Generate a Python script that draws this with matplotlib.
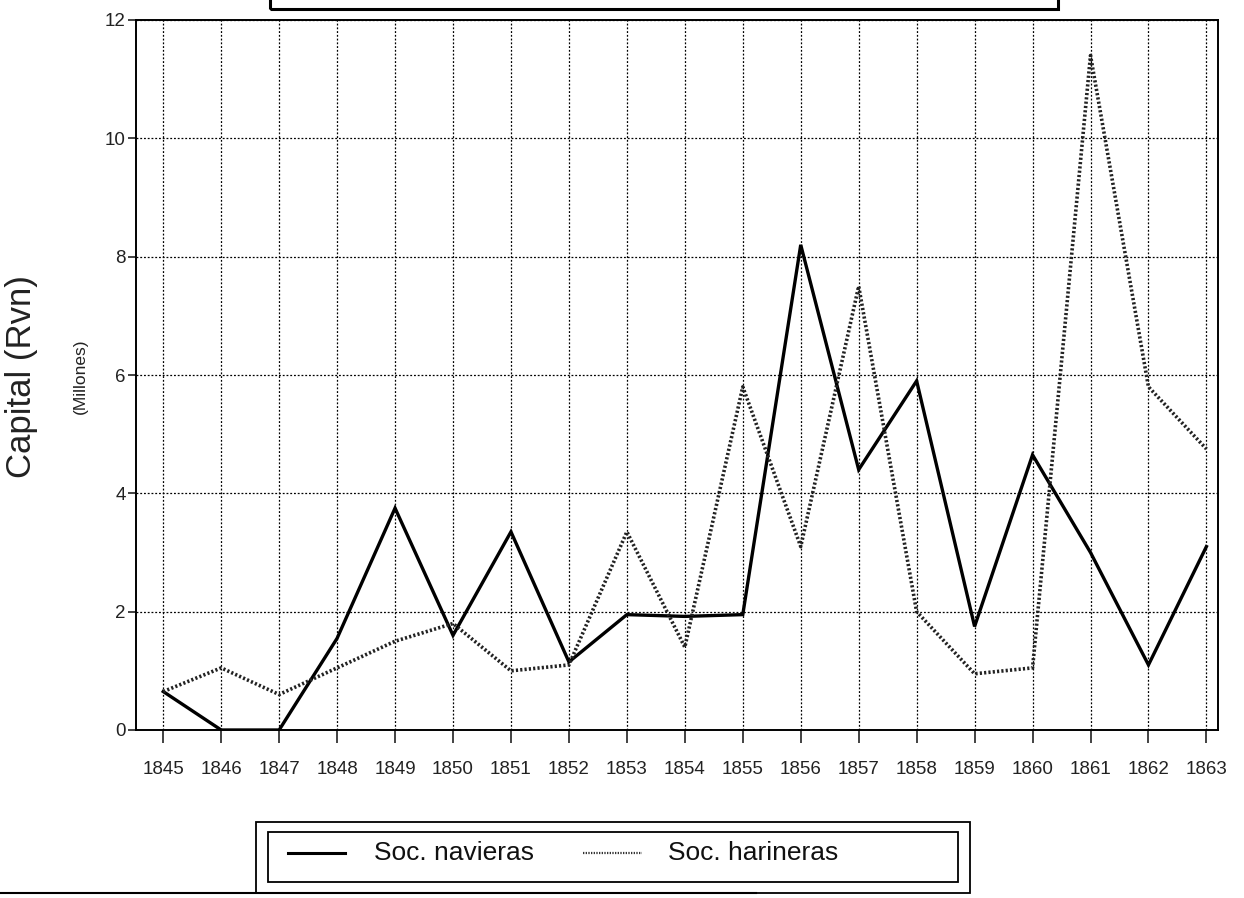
import matplotlib
matplotlib.use("Agg")
import matplotlib.pyplot as plt
from matplotlib.lines import Line2D
from matplotlib.patches import Rectangle

plt.rcParams['font.family'] = ['Liberation Sans', 'DejaVu Sans']

years = [1845, 1846, 1847, 1848, 1849, 1850, 1851, 1852, 1853, 1854,
         1855, 1856, 1857, 1858, 1859, 1860, 1861, 1862, 1863]
navieras = [0.65, 0.0, 0.0, 1.55, 3.75, 1.6, 3.35, 1.15, 1.95, 1.92,
            1.95, 8.2, 4.4, 5.9, 1.75, 4.65, 3.0, 1.1, 3.1]
harineras = [0.65, 1.05, 0.6, 1.05, 1.5, 1.8, 1.0, 1.1, 3.35, 1.4,
             5.8, 3.1, 7.5, 2.0, 0.95, 1.05, 11.4, 5.8, 4.75]
y_ticks = [0, 2, 4, 6, 8, 10, 12]
label_nav = "Soc. navieras"
label_har = "Soc. harineras"

W, H = 1244, 898
fig = plt.figure(figsize=(W / 100, H / 100), dpi=100)
fig.patch.set_facecolor('white')

left, right, top, bottom = 136, 1218, 20, 730
ax = fig.add_axes([left / W, 1 - bottom / H, (right - left) / W, (bottom - top) / H])

ax.plot(years, navieras, color='black', lw=2.4, solid_joinstyle='miter', zorder=3)
ax.plot(years, harineras, color='#222222', lw=2.6, linestyle=(0, (0.6, 0.6)), zorder=3)

ax.set_xlim(1844.53, 1863.2)
ax.set_ylim(0, 12)
ax.set_xticks(years)
ax.set_xticklabels([str(y) for y in years], fontsize=13.5)
ax.set_yticks(y_ticks)
ax.set_yticklabels([str(t) for t in y_ticks], fontsize=13.5)
ax.tick_params(axis='x', direction='out', length=9, width=1.2, pad=13, colors='#222222')
ax.tick_params(axis='y', direction='out', length=6, width=1.2, pad=1.5, colors='#222222')
ax.grid(True, color='black', linestyle=(0, (1.5, 1.5)), lw=0.9)
for s in ax.spines.values():
    s.set_linewidth(1.4)
    s.set_color('black')

fig.text(22 / W, 1 - 377 / H, "Capital (Rvn)", rotation=90, fontsize=25,
         ha='center', va='center', color='#222222')
fig.text(80 / W, 1 - 376 / H, "(Millones)", rotation=90, fontsize=12.5,
         ha='center', va='center', color='#222222')

# partial title box at top (cut off in the scan)
fig.add_artist(Rectangle((270 / W, 1 - 9 / H), (1058 - 270) / W, 20 / H,
                         transform=fig.transFigure, fill=False, lw=2.2, ec='black'))

# legend boxes
fig.add_artist(Rectangle((256 / W, 1 - 893 / H), (970 - 256) / W, (893 - 822) / H,
                         transform=fig.transFigure, fill=False, lw=1.3, ec='black'))
fig.add_artist(Rectangle((268 / W, 1 - 882 / H), (958 - 268) / W, (882 - 832) / H,
                         transform=fig.transFigure, fill=False, lw=1.3, ec='black'))
fig.add_artist(Line2D([288 / W, 345 / W], [1 - 853 / H, 1 - 853 / H],
                      transform=fig.transFigure, color='black', lw=2.2))
fig.text(374 / W, 1 - 853 / H, label_nav, fontsize=19, va='center', ha='left',
         color='#111111')
fig.add_artist(Line2D([583 / W, 642 / W], [1 - 853 / H, 1 - 853 / H],
                      transform=fig.transFigure, color='#333333', lw=1.6,
                      linestyle=(0, (0.6, 0.6))))
fig.text(668 / W, 1 - 853 / H, label_har, fontsize=19, va='center', ha='left',
         color='#111111')

# page edge line at bottom
fig.add_artist(Line2D([0, 756 / W], [1 - 893 / H, 1 - 893 / H],
                      transform=fig.transFigure, color='black', lw=1.5))

fig.savefig("out.png", dpi=100, facecolor='white')
